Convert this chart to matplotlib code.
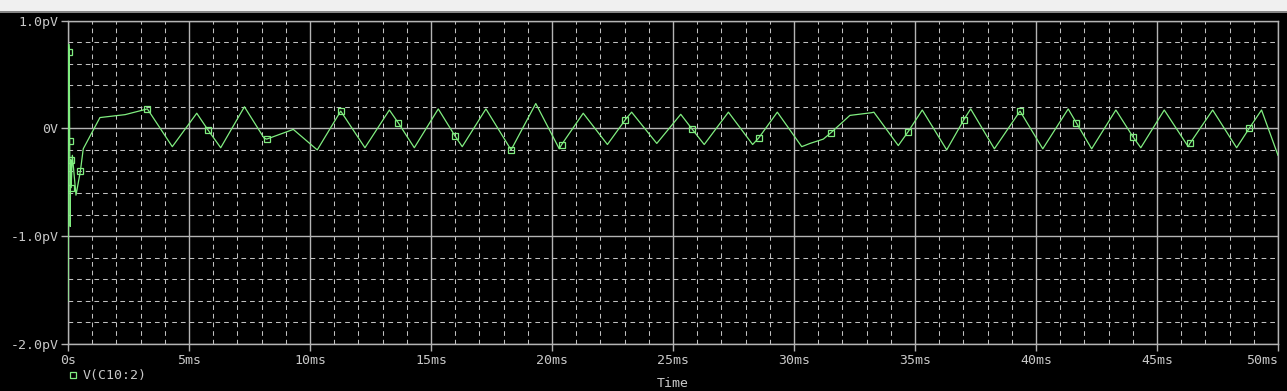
import matplotlib
matplotlib.use("Agg")
import matplotlib.pyplot as plt
from matplotlib.ticker import MultipleLocator, FixedLocator
from matplotlib.patches import Rectangle
from matplotlib.lines import Line2D

# ---- data (time in ms, voltage in pV) ----
time_ms = [0.00, 0.03, 0.05, 0.07, 0.09, 0.11, 0.13, 0.18, 0.33, 0.51, 0.63,
           1.32, 2.36, 3.28, 4.31, 5.32, 5.80, 6.31, 7.29, 8.10, 8.21, 9.31,
           10.30, 11.27, 12.27, 13.28, 13.65, 14.31, 15.30, 15.99, 16.29, 17.27,
           18.31, 19.33, 20.30, 20.40, 21.29, 22.29, 23.03, 23.29, 24.33, 25.32,
           25.80, 26.29, 27.29, 28.29, 28.54, 29.31, 30.32, 30.66, 31.21, 31.53,
           32.31, 33.21, 33.30, 34.31, 34.72, 35.30, 36.31, 37.02, 37.30, 38.28,
           39.34, 40.28, 41.33, 41.67, 42.30, 43.30, 44.01, 44.33, 45.30, 46.29,
           46.36, 47.30, 48.29, 48.81, 49.32, 50.00]
volt_pv = [-1.60, 0.78, 0.71, -0.12, -0.91, -0.29, -0.55, -0.25, -0.62, -0.40, -0.19,
           0.10, 0.127, 0.18, -0.17, 0.14, -0.02, -0.18, 0.20, -0.09, -0.10, -0.01,
           -0.20, 0.16, -0.18, 0.17, 0.05, -0.18, 0.18, -0.07, -0.17, 0.18,
           -0.20, 0.23, -0.19, -0.15, 0.14, -0.15, 0.08, 0.15, -0.14, 0.13,
           -0.01, -0.15, 0.15, -0.15, -0.09, 0.15, -0.17, -0.14, -0.10, -0.04,
           0.12, 0.145, 0.15, -0.16, -0.03, 0.17, -0.20, 0.08, 0.18, -0.19,
           0.16, -0.19, 0.18, 0.05, -0.19, 0.17, -0.08, -0.18, 0.17, -0.17,
           -0.14, 0.17, -0.18, 0.00, 0.17, -0.25]

marker_t = [0.05, 0.07, 0.11, 0.13, 0.51, 3.28, 5.80, 8.21, 11.27, 13.65, 15.99,
            18.31, 20.40, 23.03, 25.80, 28.54, 31.53, 34.72, 37.02, 39.34, 41.67,
            44.01, 46.36, 48.81]
marker_v = [0.71, -0.12, -0.29, -0.55, -0.40, 0.18, -0.02, -0.10, 0.16, 0.05, -0.07,
            -0.20, -0.15, 0.08, -0.01, -0.09, -0.04, -0.03, 0.08, 0.16, 0.05,
            -0.08, -0.14, 0.00]

x_ticks = [0, 5, 10, 15, 20, 25, 30, 35, 40, 45, 50]
x_labels = ["0s", "5ms", "10ms", "15ms", "20ms", "25ms", "30ms", "35ms", "40ms", "45ms", "50ms"]
y_ticks = [-2.0, -1.0, 0.0, 1.0]
y_labels = ["-2.0pV", "-1.0pV", "0V", "1.0pV"]
trace_name = "V(C10:2)"

# ---- style ----
W, H = 1287, 391
GREEN = "#80ee80"
GRID = "#b4b4b4"
TEXT = "#c8c8c8"
MONO = "DejaVu Sans Mono"
FS = 9.5

fig = plt.figure(figsize=(W / 100, H / 100), dpi=100, facecolor="black")
ax = fig.add_axes([68 / W, (H - 344) / H, (1278 - 68) / W, (344 - 20.5) / H])
ax.set_facecolor("black")

# window chrome at the top
fig.patches.append(Rectangle((0, (H - 11) / H), 1, 11 / H, transform=fig.transFigure,
                             facecolor="#f0f0f0", edgecolor="none", zorder=0))
fig.lines.append(Line2D([0, 1], [(H - 11.5) / H] * 2, transform=fig.transFigure,
                        color="#a0a0a0", lw=1.2))

ax.set_xlim(0, 50)
ax.set_ylim(-2.0, 1.0)
ax.xaxis.set_major_locator(FixedLocator(x_ticks))
ax.yaxis.set_major_locator(FixedLocator(y_ticks))
ax.xaxis.set_minor_locator(MultipleLocator(1))
ax.yaxis.set_minor_locator(MultipleLocator(0.2))

ax.grid(which="major", color=GRID, lw=1.0, ls="-", zorder=1)
ax.grid(which="minor", color="#c0c0c0", lw=0.75, ls=(0, (4.5, 3.8)), zorder=1)

ax.plot(time_ms, volt_pv, color=GREEN, lw=0.9, zorder=3)
ax.plot(marker_t, marker_v, ls="none", marker="s", ms=4.8, mfc="none",
        mec=GREEN, mew=0.9, zorder=4)

for s in ax.spines.values():
    s.set_color(GRID)
    s.set_linewidth(1.0)

ax.tick_params(which="major", direction="out", length=5, width=1.0, color=GRID,
               labelcolor=TEXT, labelsize=FS, pad=2)
ax.tick_params(which="minor", length=0)
ax.set_xticklabels(x_labels, family=MONO)
ax.set_yticklabels(y_labels, family=MONO)
last = ax.get_xticklabels()[-1]
last.set_horizontalalignment("right")

# legend entry and x-axis title
fig.lines.append(Line2D([73 / W], [(H - 375) / H], transform=fig.transFigure,
                        ls="none", marker="s", ms=4.2, mfc="none", mec=GREEN, mew=0.9))
fig.text(83 / W, (H - 375) / H, trace_name, color=TEXT, family=MONO, fontsize=FS,
         va="center", ha="left")
fig.text(673 / W, 1.0 / H, "Time", color=TEXT, family=MONO, fontsize=FS,
         va="bottom", ha="center")

fig.savefig("out.png", dpi=100, facecolor="black")
